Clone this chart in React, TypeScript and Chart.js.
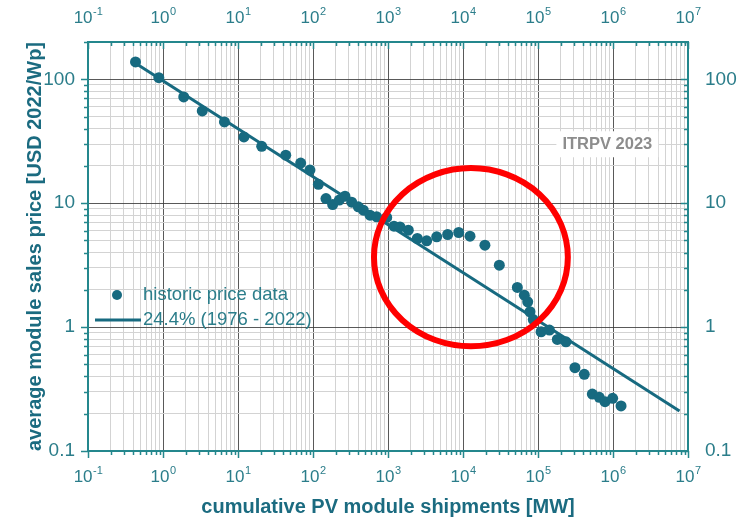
import { useEffect, useRef } from 'react';
import { Chart, registerables } from 'chart.js';

Chart.register(...registerables);

// Cumulative module shipments (MW) and average module sales price (USD 2022 / Wp), 1976 - 2022
const shipmentsMW = [
  0.43, 0.88, 1.89, 3.34, 6.6, 12,
  20.7, 43.3, 68.5, 91, 118, 149, 183, 224, 267, 328,
  402, 469, 575, 707, 961, 1202,
  1445, 1866, 2460, 3280, 4460, 6250, 8770, 12400, 19600, 30500,
  53000, 65700, 72900, 78200, 86500,
  110000, 142000, 181000, 236000, 311000,
  414000, 530000, 656000, 782000, 990000, 1280000,
];
const priceUSD = [
  138, 103, 72, 55.5, 45.3, 34.3,
  28.8, 24.4, 21.1, 18.5, 14.2, 10.9, 9.76, 10.6, 11.4, 10.2,
  9.34, 8.78, 8.0, 7.76, 7.67, 6.53,
  6.44, 6.06, 5.19, 4.97, 5.35, 5.59, 5.8, 5.42, 4.58, 3.16,
  2.09, 1.81, 1.6, 1.33, 1.15,
  0.917, 0.946, 0.796, 0.761, 0.47,
  0.416, 0.288, 0.271, 0.25, 0.266, 0.231,
];

// Learning-curve fit, given by its two end points
const fitShipmentsMW = [0.43, 7.7e6];
const fitPriceUSD = [135, 0.21];

const seriesNames = ['historic price data', '24.4% (1976 - 2022)'];

const xRange = [0.1, 1e7];
const yRange = [0.1, 200];
const xDecadeExponents = ['-1', '0', '1', '2', '3', '4', '5', '6', '7'];
const yDecadeValues = [0.1, 1, 10, 100];
const yDecadeLabels = ['0.1', '1', '10', '100'];

const xTitle = 'cumulative PV module shipments [MW]';
const yTitle = 'average module sales price [USD 2022/Wp]';
const stampText = 'ITRPV 2023';

const FONT = '"Liberation Sans", Arial, Helvetica, sans-serif';
const AXIS = '#24878d';
const LABEL = '#2b7d8a';
const TITLE = '#1b6b80';
const MARK = '#176a80';
const GRID_MAJOR = 'rgba(60,60,60,0.85)';
const GRID_MINOR = '#d3d3d3';

const isDecade = (v: number) => {
  const l = Math.log10(v);
  return Math.abs(l - Math.round(l)) < 1e-6;
};

// 1..9 x 10^n values covering [min, max]
function logGridValues(min: number, max: number): number[] {
  const out: number[] = [];
  for (let e = Math.floor(Math.log10(min)); e <= Math.ceil(Math.log10(max)); e++) {
    for (let m = 1; m <= 9; m++) {
      const v = parseFloat((m * Math.pow(10, e)).toPrecision(8));
      if (v >= min * 0.99999 && v <= max * 1.00001) out.push(v);
    }
  }
  return out;
}

const setTicks = (min: number, max: number) => (scale: any) => {
  scale.ticks = logGridValues(min, max).map((value) => ({ value }));
};

const yLabel = (value: any) => {
  const v = Number(value);
  const i = yDecadeValues.findIndex((d) => Math.abs(d - v) / d < 1e-6);
  return i >= 0 ? yDecadeLabels[i] : '';
};

const decorations = {
  id: 'decorations',
  beforeDatasetsDraw(chart: any) {
    const { ctx, scales } = chart;
    const sx = scales.x.getPixelForValue(8.4e5);
    const sy = scales.y.getPixelForValue(29.9);
    ctx.save();
    ctx.font = `bold 16.5px ${FONT}`;
    const w = ctx.measureText(stampText).width;
    ctx.fillStyle = '#ffffff';
    ctx.fillRect(sx - w / 2 - 6, sy - 13, w + 12, 26);
    ctx.fillStyle = '#8d8d8d';
    ctx.textAlign = 'center';
    ctx.textBaseline = 'middle';
    ctx.fillText(stampText, sx, sy);
    ctx.restore();
  },
  afterDatasetsDraw(chart: any) {
    const { ctx, scales } = chart;
    // highlighted region around the price plateau
    const x1 = scales.x.getPixelForValue(650);
    const x2 = scales.x.getPixelForValue(2.5e5);
    const y1 = scales.y.getPixelForValue(19.2);
    const y2 = scales.y.getPixelForValue(0.7);
    ctx.save();
    ctx.beginPath();
    ctx.ellipse((x1 + x2) / 2, (y1 + y2) / 2, (x2 - x1) / 2, (y2 - y1) / 2, 0, 0, Math.PI * 2);
    ctx.strokeStyle = '#ff0000';
    ctx.lineWidth = 6;
    ctx.stroke();
    ctx.restore();
  },
  afterDraw(chart: any) {
    const { ctx, chartArea: a, scales } = chart;
    const xs = scales.x;
    const ys = scales.y;
    ctx.save();

    // small tick marks along the frame
    ctx.strokeStyle = AXIS;
    ctx.lineWidth = 1.5;
    ctx.beginPath();
    for (const v of logGridValues(xRange[0], xRange[1])) {
      const px = Math.round(xs.getPixelForValue(v)) + 0.5;
      const len = isDecade(v) ? 7 : 4;
      ctx.moveTo(px, a.bottom);
      ctx.lineTo(px, a.bottom + len);
      ctx.moveTo(px, a.top);
      ctx.lineTo(px, a.top + len);
    }
    for (const v of logGridValues(yRange[0], yRange[1])) {
      const py = Math.round(ys.getPixelForValue(v)) + 0.5;
      const len = isDecade(v) ? 7 : 4;
      ctx.moveTo(a.left - len, py);
      ctx.lineTo(a.left, py);
      ctx.moveTo(a.right - len, py);
      ctx.lineTo(a.right, py);
    }
    ctx.stroke();

    // power-of-ten labels on bottom and top axes
    ctx.fillStyle = LABEL;
    ctx.textBaseline = 'alphabetic';
    ctx.textAlign = 'left';
    const baseFont = `17px ${FONT}`;
    const expFont = `11px ${FONT}`;
    xDecadeExponents.forEach((exp) => {
      const px = xs.getPixelForValue(Math.pow(10, Number(exp)));
      ctx.font = baseFont;
      const bw = ctx.measureText('10').width;
      ctx.font = expFont;
      const ew = ctx.measureText(exp).width;
      const start = px - (bw + ew) / 2;
      for (const baseY of [a.bottom + 31, 23]) {
        ctx.font = baseFont;
        ctx.fillText('10', start, baseY);
        ctx.font = expFont;
        ctx.fillText(exp, start + bw + 0.5, baseY - 8);
      }
    });

    // legend
    const lx = a.left;
    const ly = a.top;
    ctx.fillStyle = MARK;
    ctx.beginPath();
    ctx.arc(lx + 29, ly + 253, 5, 0, Math.PI * 2);
    ctx.fill();
    ctx.strokeStyle = MARK;
    ctx.lineWidth = 3;
    ctx.beginPath();
    ctx.moveTo(lx + 7, ly + 278);
    ctx.lineTo(lx + 53, ly + 278);
    ctx.stroke();
    ctx.fillStyle = LABEL;
    ctx.font = `18.5px ${FONT}`;
    ctx.textBaseline = 'middle';
    ctx.fillText(seriesNames[0], lx + 55, ly + 253);
    ctx.fillText(seriesNames[1], lx + 55, ly + 278);

    ctx.restore();
  },
};

export default function App() {
  const canvasRef = useRef<HTMLCanvasElement>(null);

  useEffect(() => {
    const canvas = canvasRef.current;
    if (!canvas) return;
    Chart.defaults.font.family = FONT;

    const gridColor = (ctx: any) => (ctx.tick && isDecade(ctx.tick.value) ? GRID_MAJOR : GRID_MINOR);

    const chart = new Chart(canvas, {
      type: 'scatter',
      data: {
        datasets: [
          {
            label: seriesNames[0],
            data: shipmentsMW.map((x, i) => ({ x, y: priceUSD[i] })),
            backgroundColor: MARK,
            borderWidth: 0,
            pointRadius: 5.5,
            pointHoverRadius: 5.5,
          },
          {
            label: seriesNames[1],
            data: fitShipmentsMW.map((x, i) => ({ x, y: fitPriceUSD[i] })),
            showLine: true,
            borderColor: MARK,
            borderWidth: 3,
            pointRadius: 0,
            fill: false,
          },
        ],
      },
      options: {
        responsive: false,
        maintainAspectRatio: false,
        animation: false,
        layout: { padding: 0 },
        plugins: { legend: { display: false }, tooltip: { enabled: false } },
        scales: {
          x: {
            type: 'logarithmic',
            position: 'bottom',
            min: xRange[0],
            max: xRange[1],
            afterBuildTicks: setTicks(xRange[0], xRange[1]),
            afterFit: (s: any) => { s.height = 68; },
            ticks: { display: false, autoSkip: false },
            grid: { display: true, drawTicks: false, color: gridColor, lineWidth: 1 },
            border: { display: true, color: AXIS, width: 2 },
            title: {
              display: true,
              text: xTitle,
              color: TITLE,
              font: { size: 20, weight: 'bold', family: FONT },
              padding: { top: 0, bottom: 0 },
            },
          },
          x2: {
            type: 'logarithmic',
            axis: 'x',
            position: 'top',
            min: xRange[0],
            max: xRange[1],
            afterFit: (s: any) => { s.height = 42; },
            ticks: { display: false },
            grid: { display: false },
            border: { display: true, color: AXIS, width: 2 },
          },
          y: {
            type: 'logarithmic',
            position: 'left',
            min: yRange[0],
            max: yRange[1],
            afterBuildTicks: setTicks(yRange[0], yRange[1]),
            afterFit: (s: any) => { s.width = 88; },
            ticks: { autoSkip: false, callback: yLabel, color: LABEL, padding: 13, font: { size: 19, family: FONT } },
            grid: { display: true, drawTicks: false, color: gridColor, lineWidth: 1 },
            border: { display: true, color: AXIS, width: 2 },
            title: {
              display: true,
              text: yTitle,
              color: TITLE,
              font: { size: 20, weight: 'bold', family: FONT },
              padding: { top: 23, bottom: 0 },
            },
          },
          y2: {
            type: 'logarithmic',
            axis: 'y',
            position: 'right',
            min: yRange[0],
            max: yRange[1],
            afterBuildTicks: setTicks(yRange[0], yRange[1]),
            afterFit: (s: any) => { s.width = 58; },
            ticks: { autoSkip: false, callback: yLabel, color: LABEL, padding: 9, font: { size: 19, family: FONT } },
            grid: { display: false },
            border: { display: true, color: AXIS, width: 2 },
          },
        },
      } as any,
      plugins: [decorations],
    });

    return () => chart.destroy();
  }, []);

  return (
    <div style={{ position: 'fixed', left: 0, top: 0, width: 746, height: 519, background: '#ffffff' }}>
      <canvas ref={canvasRef} width={746} height={519} style={{ display: 'block', width: 746, height: 519 }} />
    </div>
  );
}
